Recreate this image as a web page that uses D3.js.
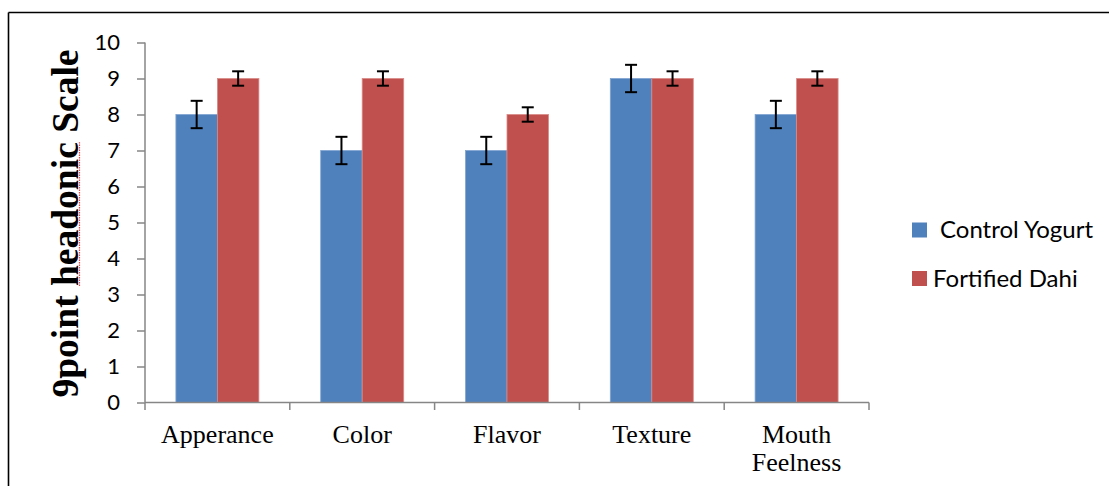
<!DOCTYPE html>
<html>
<head>
<meta charset="utf-8">
<script src="https://cdn.jsdelivr.net/npm/d3@7"></script>
<style>
  html, body { margin: 0; padding: 0; background: #fff; }
  svg { display: block; }
</style>
</head>
<body>
<svg id="chart" width="1109" height="486"></svg>
<script>
const categories = ["Apperance", "Color", "Flavor", "Texture", "Mouth Feelness"];
const seriesNames = ["Control Yogurt", "Fortified Dahi"];
const controlValues = [8, 7, 7, 9, 8];
const fortifiedValues = [9, 9, 8, 9, 9];
const controlErrors = [0.38, 0.38, 0.38, 0.38, 0.38];
const fortifiedErrors = [0.2, 0.2, 0.2, 0.2, 0.2];
const yTicks = [0, 1, 2, 3, 4, 5, 6, 7, 8, 9, 10];
const colors = ["#4F81BD", "#C0504D"];
const strokes = ["#7FA3D0", "#D98A88"];

const series = [
  { name: seriesNames[0], values: controlValues, errors: controlErrors },
  { name: seriesNames[1], values: fortifiedValues, errors: fortifiedErrors }
];

const svg = d3.select("#chart");
const axisColor = "#868686";

// frame
svg.append("line").attr("x1", 8.5).attr("x2", 1109).attr("y1", 12.5).attr("y2", 12.5)
  .attr("stroke", "#000").attr("stroke-width", 1.6);
svg.append("line").attr("x1", 8.5).attr("x2", 8.5).attr("y1", 12.5).attr("y2", 486)
  .attr("stroke", "#000").attr("stroke-width", 1.6);

const x0 = 145, x1 = 869, yTop = 42.5, yBot = 402.5;

const x = d3.scaleBand().domain(categories).range([x0, x1]).paddingInner(0).paddingOuter(0);
const xs = d3.scaleBand().domain(seriesNames).range([0, x.bandwidth()]).paddingInner(0).paddingOuter(0.745);
const y = d3.scaleLinear().domain([0, 10]).range([yBot, yTop]);

// bars
const groups = svg.append("g").selectAll("g")
  .data(categories).join("g")
  .attr("transform", d => `translate(${x(d)},0)`);

series.forEach((s, si) => {
  groups.append("rect")
    .attr("x", (d, i) => xs(s.name))
    .attr("y", (d, i) => y(s.values[i]))
    .attr("width", xs.bandwidth())
    .attr("height", (d, i) => y(0) - y(s.values[i]))
    .attr("fill", colors[si])
    .attr("stroke", strokes[si])
    .attr("stroke-width", 0.8);
});

// y axis
const yAxis = d3.axisLeft(y).tickValues(yTicks).tickSize(8).tickPadding(17).tickFormat(d3.format("d"));
const gy = svg.append("g").attr("transform", `translate(${x0},0)`).call(yAxis);
gy.select(".domain").attr("stroke", axisColor).attr("stroke-width", 1.5).attr("d", `M0,${yTop}V${yBot}`);
gy.selectAll(".tick line").attr("stroke", axisColor).attr("stroke-width", 1.5);
gy.selectAll(".tick text").attr("font-family", "Lato, 'Open Sans', sans-serif").attr("font-size", 22).attr("fill", "#000");

// x axis
const boundaries = categories.map(c => x(c)).concat([x1]);
const gx = svg.append("g");
gx.append("line").attr("x1", x0).attr("x2", x1).attr("y1", yBot).attr("y2", yBot)
  .attr("stroke", axisColor).attr("stroke-width", 1.5);
gx.selectAll(".xt").data(boundaries).join("line")
  .attr("x1", d => d).attr("x2", d => d).attr("y1", yBot).attr("y2", yBot + 7.5)
  .attr("stroke", axisColor).attr("stroke-width", 1.5);

const xl = gx.selectAll(".xl").data(categories).join("text")
  .attr("x", d => x(d) + x.bandwidth() / 2)
  .attr("y", 443)
  .attr("text-anchor", "middle")
  .attr("font-family", "'Liberation Serif', 'Times New Roman', serif")
  .attr("font-size", 26)
  .attr("fill", "#000");
xl.each(function(d) {
  const words = d.split(" ");
  const t = d3.select(this);
  words.forEach((w, i) => {
    t.append("tspan").attr("x", x(d) + x.bandwidth() / 2).attr("dy", i === 0 ? 0 : 28).text(w);
  });
});

// error bars
series.forEach((s, si) => {
  const eg = groups.append("g");
  const cx = xs(s.name) + xs.bandwidth() / 2;
  eg.append("line")
    .attr("x1", cx).attr("x2", cx)
    .attr("y1", (d, i) => y(s.values[i] + s.errors[i]))
    .attr("y2", (d, i) => y(s.values[i] - s.errors[i]))
    .attr("stroke", "#000").attr("stroke-width", 2);
  [1, -1].forEach(sign => {
    eg.append("line")
      .attr("x1", cx - 6).attr("x2", cx + 6)
      .attr("y1", (d, i) => y(s.values[i] + sign * s.errors[i]))
      .attr("y2", (d, i) => y(s.values[i] + sign * s.errors[i]))
      .attr("stroke", "#000").attr("stroke-width", 2);
  });
});

// y axis title
const title = svg.append("text")
  .attr("transform", "translate(78,223.5) rotate(-90)")
  .attr("text-anchor", "middle")
  .attr("font-family", "'Liberation Serif', 'Times New Roman', serif")
  .attr("font-weight", "bold")
  .attr("font-size", 37.5)
  .attr("fill", "#000");
title.append("tspan").text("9point ");
title.append("tspan").text("headonic");
title.append("tspan").text(" Scale");

// spell-check style underline under "headonic"
(function() {
  const node = title.node();
  const full = node.getComputedTextLength();
  const pre = node.getSubStringLength(0, 7);
  const w = node.getSubStringLength(7, 8);
  const start = -full / 2 + pre;
  svg.append("line")
    .attr("transform", "translate(78,223.5) rotate(-90)")
    .attr("x1", start).attr("x2", start + w)
    .attr("y1", 1.5).attr("y2", 1.5)
    .attr("stroke", "#FF3B3B").attr("stroke-width", 1.2)
    .attr("stroke-dasharray", "1.5,1");
})();

// legend
const legend = svg.append("g");
const legY = [230, 278.5];
const legTextX = [940, 933];
series.forEach((s, si) => {
  legend.append("rect")
    .attr("x", 912).attr("y", legY[si] - 7.5)
    .attr("width", 15).attr("height", 15)
    .attr("fill", colors[si]);
  legend.append("text")
    .attr("x", legTextX[si]).attr("y", legY[si])
    .attr("dy", "0.35em")
    .attr("font-family", "Lato, 'Open Sans', sans-serif")
    .attr("font-size", 24)
    .attr("fill", "#000")
    .text(s.name);
});
</script>
</body>
</html>
